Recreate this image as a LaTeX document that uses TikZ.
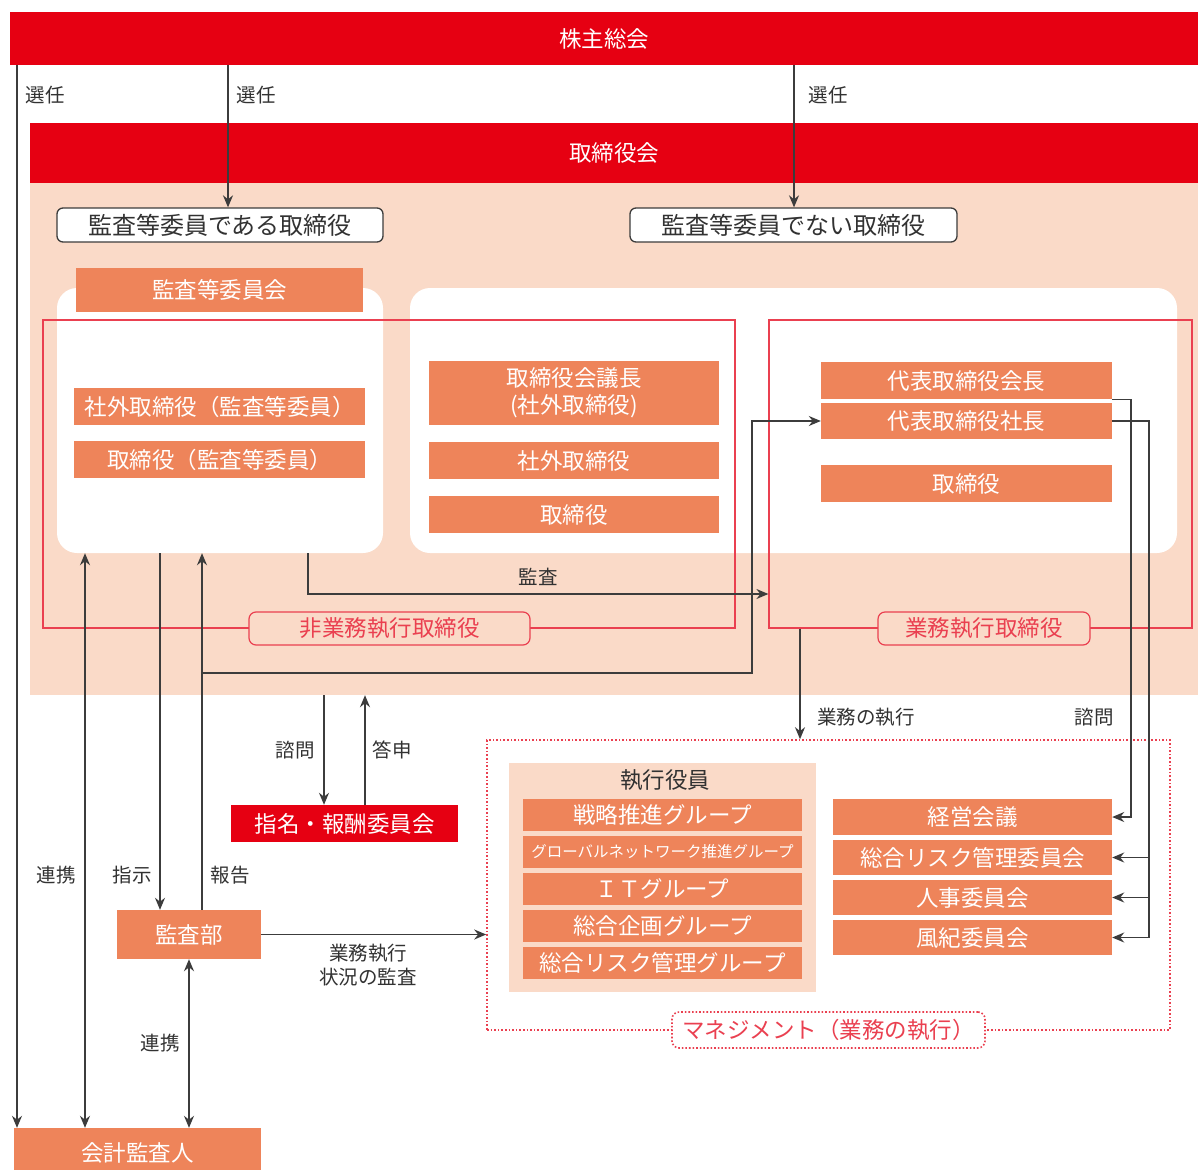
\documentclass[tikz,border=0pt]{standalone}
\usepackage{fontspec}
\newfontfamily\jp{Noto Sans CJK JP}
\usetikzlibrary{arrows.meta}
\definecolor{cred}{RGB}{230,0,18}
\definecolor{corange}{RGB}{238,132,90}
\definecolor{cpeach}{RGB}{250,218,200}
\definecolor{cframe}{RGB}{234,64,80}
\definecolor{cline}{RGB}{60,60,60}
\definecolor{ctext}{RGB}{50,50,50}
\begin{document}
\begin{tikzpicture}[x=1pt,y=-1pt,
  every node/.style={font=\jp\fontsize{22.5}{26}\selectfont, inner sep=0pt, align=center},
  redbar/.style={fill=cred, text=white},
  obox/.style={fill=corange, text=white},
  wbox/.style={draw=cline, fill=white, rounded corners=6pt, line width=1.3pt, text=ctext, font=\jp\fontsize{24}{28}\selectfont},
  wreg/.style={fill=white, rounded corners=20pt},
  frm/.style={draw=cframe, line width=1.2pt},
  flbl/.style={draw=cframe, fill=cpeach, rounded corners=7pt, line width=1.2pt, text=cframe},
  mfrm/.style={draw=cframe, dotted, line width=1.6pt},
  mlbl/.style={draw=cframe, dotted, fill=white, rounded corners=7pt, line width=1.6pt, text=cframe},
  lbl/.style={text=ctext, font=\jp\fontsize{19.5}{23}\selectfont},
  arr/.style={draw=cline, line width=1.4pt, -{Stealth[length=12pt,width=10pt]}},
  arrb/.style={draw=cline, line width=1.4pt, {Stealth[length=12pt,width=10pt]}-{Stealth[length=12pt,width=10pt]}}
]
\useasboundingbox (0,0) rectangle (1198,1169);
\fill[white] (0,0) rectangle (1198,1169);

% shareholders
\node[redbar, minimum width=1188pt, minimum height=53pt] (sh) at (604,38.5) {株主総会};

% board area
\node[fill=cpeach, minimum width=1168pt, minimum height=512pt] (bd) at (614,439) {};
\node[redbar, minimum width=1168pt, minimum height=60pt] (tb) at (614,153) {取締役会};
\node[wbox, minimum width=326pt, minimum height=34pt] (kd) at (220,225) {監査等委員である取締役};
\node[wbox, minimum width=327pt, minimum height=34pt] (nkd) at (793.5,225) {監査等委員でない取締役};

\node[wreg, minimum width=326pt, minimum height=265pt] (wl) at (220,420.5) {};
\node[wreg, minimum width=767pt, minimum height=265pt] (wr) at (793.5,420.5) {};

\node[frm, minimum width=692pt, minimum height=308pt] (nef) at (389,474) {};
\node[frm, minimum width=423pt, minimum height=308pt] (ef) at (980.5,474) {};

\node[obox, minimum width=287pt, minimum height=44pt] (kiin) at (219.5,290) {監査等委員会};
\node[obox, minimum width=291pt, minimum height=37pt] (l1) at (219.5,406.5) {社外取締役（監査等委員）};
\node[obox, minimum width=291pt, minimum height=37pt] (l2) at (219.5,459.5) {取締役（監査等委員）};

\node[obox, minimum width=290pt, minimum height=64pt, font=\jp\fontsize{22.5}{27}\selectfont] (m1) at (574,393) {取締役会議長\\(社外取締役)};
\node[obox, minimum width=290pt, minimum height=37pt] (m2) at (574,460.5) {社外取締役};
\node[obox, minimum width=290pt, minimum height=37pt] (m3) at (574,514.5) {取締役};

\node[obox, minimum width=291pt, minimum height=37pt] (r1) at (966.5,380.5) {代表取締役会長};
\node[obox, minimum width=291pt, minimum height=36pt] (r2) at (966.5,421) {代表取締役社長};
\node[obox, minimum width=291pt, minimum height=37pt] (r3) at (966.5,483.5) {取締役};

% nomination committee, audit dept, accounting auditor
\node[redbar, minimum width=227pt, minimum height=37pt] (nom) at (344.5,823.5) {指名・報酬委員会};
\node[obox, minimum width=144pt, minimum height=49pt] (kb) at (189,934.5) {監査部};
\node[obox, minimum width=247pt, minimum height=50pt] (kk) at (137.5,1153) {会計監査人};

% management
\node[mfrm, minimum width=683pt, minimum height=290pt] (mg) at (828.5,885) {};
\node[fill=cpeach, minimum width=307pt, minimum height=229pt] (eo) at (662.5,877.5) {};
\node[text=ctext] (eot) at (665,780) {執行役員};
\node[obox, minimum width=279pt, minimum height=32pt] (e1) at (662.5,815) {戦略推進グループ};
\node[obox, minimum width=279pt, minimum height=32pt, font=\jp\fontsize{15.5}{18}\selectfont] (e2) at (662.5,852) {グローバルネットワーク推進グループ};
\node[obox, minimum width=279pt, minimum height=32pt] (e3) at (662.5,889) {ＩＴグループ};
\node[obox, minimum width=279pt, minimum height=32pt] (e4) at (662.5,926) {総合企画グループ};
\node[obox, minimum width=279pt, minimum height=32pt] (e5) at (662.5,963) {総合リスク管理グループ};

\node[obox, minimum width=279pt, minimum height=36pt] (c1) at (972.5,817) {経営会議};
\node[obox, minimum width=279pt, minimum height=35pt] (c2) at (972.5,857.5) {総合リスク管理委員会};
\node[obox, minimum width=279pt, minimum height=35pt] (c3) at (972.5,897.5) {人事委員会};
\node[obox, minimum width=279pt, minimum height=35pt] (c4) at (972.5,937.5) {風紀委員会};

% connectors
\draw[arr] (sh.south -| 17,0) -- (kk.north -| 17,0);
\draw[arr] (sh.south -| 228,0) -- (kd.north -| 228,0);
\draw[arr] (sh.south -| 794,0) -- (nkd.north -| 794,0);

\draw[arr] (wl.south -| 308,0) |- (ef.west |- 0,594);
\draw[arr] (wl.south -| 160,0) -- (kb.north -| 160,0);
\draw[arr] (kb.north -| 202,0) -- (wl.south -| 202,0);
\coordinate (rp) at (202,673);
\draw[arr] (rp) -| (752,421) -- (r2.west);
\draw[arrb] (wl.south -| 85,0) -- (kk.north -| 85,0);

\draw[arr] (bd.south -| 324,0) -- (nom.north -| 324,0);
\draw[arr] (nom.north -| 365,0) -- (bd.south -| 365,0);

\draw[arr] (ef.south -| 800,0) -- (mg.north -| 800,0);

\draw[arr] (r1.south east) -| (c1.east -| 1131,0) -- (c1.east);
\draw[arr] (r2.east) -| (c4.east -| 1149,0) -- (c4.east);
\draw[arr] (c2.east -| 1149,0) -- (c2.east);
\draw[arr] (c3.east -| 1149,0) -- (c3.east);

\draw[arr] (kb.east) -- (mg.west |- kb.east);
\draw[arrb] (kb.south) -- (kk.north -| kb.south);

% frame labels (on top of lines)
\node[flbl, minimum width=281pt, minimum height=33pt] (nel) at (389.5,628.5) {非業務執行取締役};
\node[flbl, minimum width=212pt, minimum height=33pt] (el) at (984,628.5) {業務執行取締役};
\node[mlbl, minimum width=313pt, minimum height=36pt] (ml) at (828.5,1030) {マネジメント（業務の執行）};

% labels
\node[lbl] (s1) at (45,95) {選任};
\node[lbl] (s2) at (256,95) {選任};
\node[lbl] (s3) at (828,95) {選任};
\node[lbl] (ka) at (538,577) {監査};
\node[lbl] (gs) at (866,717) {業務の執行};
\node[lbl] (sm2) at (1094,717) {諮問};
\node[lbl] (sm1) at (295,750) {諮問};
\node[lbl] (ts) at (392,750) {答申};
\node[lbl] (rk1) at (56,875) {連携};
\node[lbl] (sj) at (132,875) {指示};
\node[lbl] (hk) at (230,875) {報告};
\node[lbl, font=\jp\fontsize{19.5}{24}\selectfont] (gk) at (368,965) {業務執行\\状況の監査};
\node[lbl] (rk2) at (160,1043) {連携};
\end{tikzpicture}
\end{document}
